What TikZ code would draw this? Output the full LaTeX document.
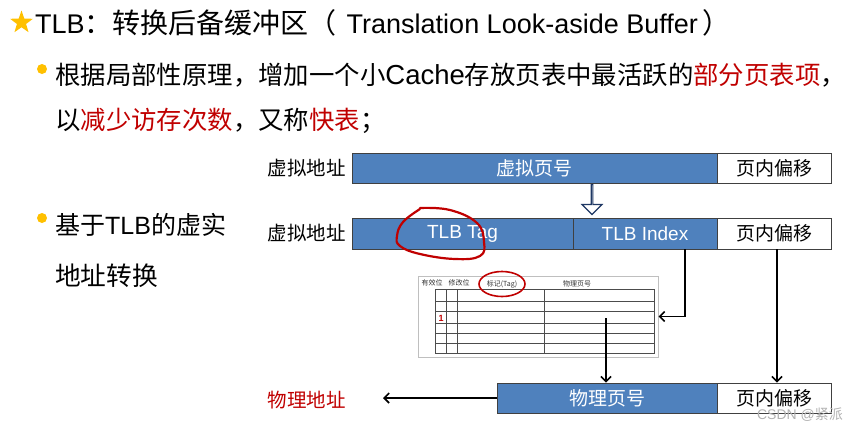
\documentclass[tikz,border=0pt]{standalone}
\usepackage{fontspec}
\setmainfont{Liberation Sans}
\newfontfamily\cjk{Noto Sans CJK SC}
\usetikzlibrary{arrows.meta,shapes.geometric,shapes.arrows}
\definecolor{boxblue}{HTML}{4F81BD}
\definecolor{tred}{HTML}{C00000}
\definecolor{dotgold}{HTML}{FFC000}
\definecolor{navy}{HTML}{1F3864}

\begin{document}
\begin{tikzpicture}[x=1pt,y=-1pt,
  bluebox/.style={draw=black!75, line width=0.8pt, fill=boxblue, text=white, minimum height=30pt, inner sep=0pt, font=\fontsize{19}{19}\selectfont},
  whitebox/.style={bluebox, fill=white, text=black},
  lbl/.style={font=\fontsize{19.5}{19.5}\selectfont\cjk, inner sep=0pt},
  big/.style={font=\fontsize{27.5}{27.5}\selectfont, inner sep=0pt, anchor=west},
  tinytxt/.style={font=\fontsize{7}{7}\selectfont\cjk, inner sep=0pt, text=black!80},
  dot/.style={circle, fill=dotgold, inner sep=0pt, minimum size=10pt},
  arr/.style={line width=1.6pt, -{Straight Barb[length=5pt, width=10pt]}},
  redloop/.style={draw=tred, line width=2.2pt, line cap=round}]
\useasboundingbox (0,0) rectangle (850,426);

% text part
\node[star, star points=5, star point ratio=2.5, fill=dotgold, inner sep=0pt, minimum size=24pt] (star) at (21.5,22.5) {};
\node[big, font=\fontsize{27}{27}\selectfont] (title) at (35,23) {TLB{\cjk\fontsize{28}{28}\selectfont ：转换后备缓冲区（}\hspace{10pt}Translation Look-aside Buffer\hspace{5pt}{\cjk\fontsize{28}{28}\selectfont ）}};
\node[dot] (d1) at (42,69) {};
\node[big] (l1) at (55,75) {{\cjk\fontsize{25.4}{25.4}\selectfont 根据局部性原理，增加一个小}Cache{\cjk\fontsize{25.4}{25.4}\selectfont 存放页表中最活跃的\textcolor{tred}{部分页表项}，}};
\node[big] (l2) at (55,121) {{\cjk\fontsize{25.4}{25.4}\selectfont 以\textcolor{tred}{减少访存次数}，又称\textcolor{tred}{快表}；}};
\node[dot] (d2) at (42,218) {};
\node[big, font=\fontsize{25}{25}\selectfont] (l3) at (55,225) {{\cjk 基于}TLB{\cjk 的虚实}};
\node[big, font=\fontsize{25.7}{25.7}\selectfont] (l4) at (55,276) {{\cjk 地址转换}};

% virtual address
\node[lbl, anchor=east] (va1) at (346,168) {虚拟地址};
\node[bluebox, minimum width=365pt] (vpn) at (534.5,168) {\cjk 虚拟页号};
\node[whitebox, minimum width=114pt] (off1) at (774,168) {\cjk 页内偏移};
\node[single arrow, draw=navy, fill=white, line width=1.2pt, rotate=-90, minimum height=30pt, minimum width=20pt, single arrow head extend=6.5pt, inner sep=0pt] (down) at (592,199) {};

\node[lbl, anchor=east] (va2) at (346,233.5) {虚拟地址};
\node[bluebox, minimum width=221pt, minimum height=31pt] (tag) at (462.5,233.5) {TLB Tag};
\node[bluebox, minimum width=144pt, minimum height=31pt] (tidx) at (645,233.5) {TLB Index};
\node[whitebox, minimum width=114pt, minimum height=31pt] (off2) at (774,233.5) {\cjk 页内偏移};
\draw[redloop] plot[smooth, tension=0.7] coordinates {(420,208) (450,210) (477,223) (484,242) (480,256) (455,259) (420,254) (400,246) (397,236) (403,222) (420,209)};

% TLB table
\node[draw=black!25, line width=1pt, minimum width=240pt, minimum height=81pt, inner sep=0pt] (tbl) at (538,316.5) {};
\draw[black!70, line width=0.8pt] (435,289) rectangle (654,353);
\foreach \y in {301,311,323,333,343}
  \draw[black!70, line width=0.8pt] (435,\y) -- (654,\y);
\foreach \x in {446,457,544}
  \draw[black!70, line width=0.8pt] (\x,289) -- (\x,353);
\node[tinytxt] (hv) at (432,283) {有效位};
\node[tinytxt] (hm) at (459,283) {修改位};
\node[tinytxt] (ht) at (502,284) {标记(Tag)};
\node[tinytxt] (hp) at (577,284) {物理页号};
\node[text=tred, font=\bfseries\fontsize{9}{9}\selectfont, inner sep=0pt] (one) at (441,318) {1};
\draw[tred, line width=1.6pt] (502,284) ellipse (23 and 12.5);

% physical address
\node[bluebox, minimum width=220pt] (ppn) at (607,398) {\cjk 物理页号};
\node[whitebox, minimum width=114pt] (off3) at (774,398) {\cjk 页内偏移};
\node[lbl, text=tred, anchor=east] (pa) at (346,400) {物理地址};
\coordinate (hit) at (606,318);

\draw[arr] ([xshift=40pt]tidx.south) |- (tbl.east);
\draw[arr] (hit) -- (hit |- ppn.north);
\draw[arr] ([xshift=3pt]off2.south) -- ([xshift=3pt]off3.north);
\draw[arr] (ppn.west) -- ([xshift=37pt]pa.east |- ppn.west);

\node[text=black!30, font=\fontsize{14}{14}\selectfont, inner sep=0pt] (wm) at (800,415) {CSDN @{\cjk 紧派}};
\end{tikzpicture}
\end{document}
